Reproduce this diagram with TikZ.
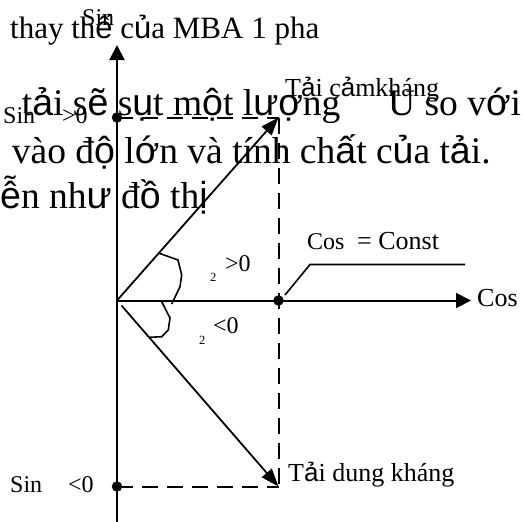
\documentclass[tikz,border=0pt]{standalone}
\usepackage{fontspec}
\setmainfont{Liberation Serif}
\newfontfamily\fbsans{Liberation Sans}
\newcommand\fb[1]{{\fbsans #1}}
\usetikzlibrary{arrows.meta}
\tikzset{
  ax/.style={line width=2pt, -{Triangle[length=15pt,width=15pt]}},
  vec/.style={line width=1.8pt, -{Triangle[length=18pt,width=13pt]}},
  dsh/.style={line width=2pt, dash pattern=on 16pt off 9pt},
  dotn/.style={circle, fill=black, inner sep=0pt, minimum size=10.5pt},
  bgtext/.style={anchor=base west, inner sep=0pt, font=\fontsize{37.5}{40}\selectfont},
  bgtitle/.style={anchor=base west, inner sep=0pt, font=\fontsize{31}{33}\selectfont},
  lbl/.style={anchor=base west, inner sep=0pt, font=\fontsize{24}{26}\selectfont},
  lblb/.style={anchor=base west, inner sep=0pt, font=\fontsize{26}{28}\selectfont},
  subs/.style={anchor=base west, inner sep=0pt, font=\fontsize{12.5}{14}\selectfont},
  anglemk/.style={line width=1.6pt},
}
\begin{document}
\begin{tikzpicture}[x=1pt,y=-1pt]
\useasboundingbox (0,0) rectangle (523,522);
\fill[white] (0,0) rectangle (523,522);

% background document text fragments
\node[bgtitle] (t1) at (10,38) {thay th\fb{ế} c\fb{ủ}a MBA 1 pha};
\node[bgtext] (t2) at (21.7,115.5) {t\fb{ả}i s\fb{ẽ} s\fb{ụ}t m\fb{ộ}t l\fb{ượ}ng};
\node[bgtext] (t2b) at (388,115.5) {U so v\fb{ớ}i};
\node[bgtext] (t3) at (11.7,163.3) {vào đ\fb{ộ} l\fb{ớ}n và tính ch\fb{ấ}t c\fb{ủ}a t\fb{ả}i.};
\node[bgtext] (t4) at (0,208.3) {\fb{ễ}n nh\fb{ư} đ\fb{ồ} th\fb{ị}};

% key points
\coordinate (O) at (117,300.5);
\coordinate (O2) at (121.5,305.5);
\coordinate (Yt) at (117,45);
\coordinate (Yb) at (117,522);
\coordinate (Xr) at (471,300.5);
\coordinate (P) at (278.5,117.5);
\coordinate (Q) at (278.5,486.5);
\coordinate (D) at (278.5,491.5);
\coordinate (L0) at (285,295);
\coordinate (L1) at (310,264.5);
\coordinate (L2) at (465,264.5);

\node[dotn] (A) at (117,117.5) {};
\node[dotn] (B) at (117,486.5) {};
\node[dotn] (C) at (278.5,300.5) {};

% axes
\draw[ax] (Yb) -- (Yt);
\draw[ax] (O) -- (Xr);

% vectors
\draw[vec] (O) -- (P);
\draw[vec] (O2) -- (Q);

% dashed projections
\draw[dsh] (A.center) -- (P);
\draw[dsh] (B.center) -- (Q);
\draw[dsh] (P) -- (D);

% angle marks
\draw[anglemk] (159.3,253.3) -- (178,260) -- (181.7,275) -- (180,286.7) -- (171.7,304);
\draw[anglemk] (161.7,301.7) -- (170,318) -- (168.3,330) -- (161.7,336.7) -- (150,337.3);

% leader
\draw[anglemk] (L0) -- (L1) -- (L2);

% labels
\node[lbl] (sinTop) at (82,25) {Sin};
\node[lbl] (sinP) at (3,123) {Sin};
\node[lbl] (gtP) at (62,123) {>0};
\node[lbl] (sinN) at (10,492) {Sin};
\node[lbl] (ltN) at (68,492) {<0};
\node[lblb] (cosX) at (477,306) {Cos};
\node[lbl] (cosC) at (307,249) {Cos};
\node[lblb] (const) at (357,249) {= Const};
\node[lblb] (tck) at (285,96.7) {T\fb{ả}i c\fb{ả}mkháng};
\node[lblb] (tdk) at (288,481.7) {T\fb{ả}i dung kháng};
\node[subs] (s1) at (210,281.7) {2};
\node[lbl] (g1) at (225,271) {>0};
\node[subs] (s2) at (199,344) {2};
\node[lbl] (g2) at (213,333) {<0};
\end{tikzpicture}
\end{document}
